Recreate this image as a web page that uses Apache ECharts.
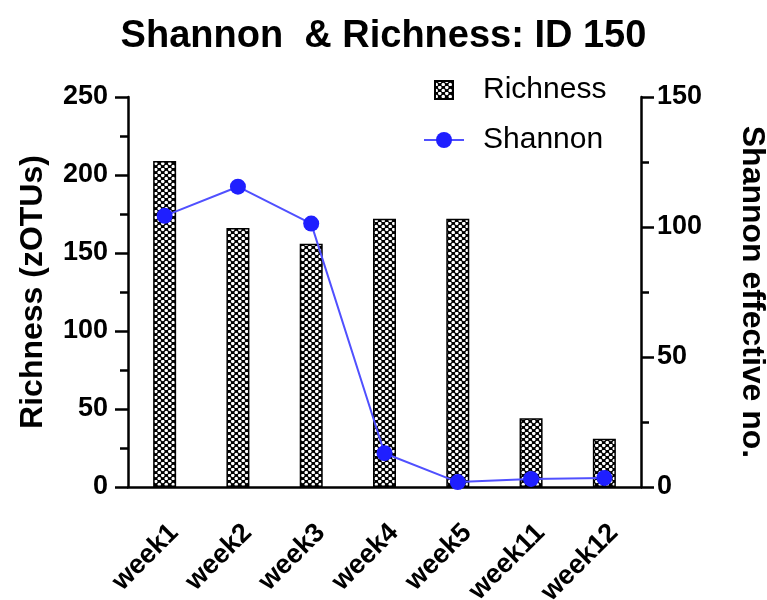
<!DOCTYPE html>
<html>
<head>
<meta charset="utf-8">
<script src="https://cdn.jsdelivr.net/npm/echarts@6/dist/echarts.min.js"></script>
<style>
  html, body { margin: 0; padding: 0; background: #fff; }
  #chart { width: 767px; height: 600px; }
</style>
</head>
<body>
<div id="chart"></div>
<script>
// data
const weeks = ['week1', 'week2', 'week3', 'week4', 'week5', 'week11', 'week12'];
const richness = [209, 166, 156, 172, 172, 44, 31];
const shannon = [104.3, 115.5, 101.3, 13, 1.9, 3.1, 3.5];
const richnessTicks = [0, 250, 50];   // min, max, interval
const shannonTicks = [0, 150, 50];

// black fill with white dots, like the prism checker pattern
function dotPattern () {
    const c = document.createElement('canvas');
    c.width = 7;
    c.height = 6;
    const ctx = c.getContext('2d');
    ctx.fillStyle = '#000';
    ctx.fillRect(0, 0, 7, 6);
    ctx.fillStyle = '#fff';
    const dots = [[1.75, 1.5], [5.25, 4.5]];
    dots.forEach(d => {
        ctx.beginPath();
        ctx.arc(d[0], d[1], 1.75, 0, Math.PI * 2);
        ctx.fill();
    });
    return c;
}

const font = 'Liberation Sans, Arial, sans-serif';
const chart = echarts.init(document.getElementById('chart'));

const axisBase = {
    type: 'value',
    splitLine: { show: false },
    axisLine: { show: true, lineStyle: { color: '#000', width: 2.5 } },
    axisTick: { show: true, length: 13, lineStyle: { color: '#000', width: 2.5 } },
    minorTick: { show: true, splitNumber: 2, length: 8, lineStyle: { color: '#000', width: 2.5 } },
    axisLabel: { color: '#000', fontSize: 27, fontWeight: 'bold', fontFamily: font },
    nameLocation: 'middle',
    nameTextStyle: { color: '#000', fontSize: 32, fontWeight: 'bold', fontFamily: font }
};

const option = {
    animation: false,
    title: {
        text: 'Shannon  & Richness: ID 150',
        left: 'center',
        top: 13,
        textStyle: { color: '#000', fontSize: 38, fontWeight: 'bold', fontFamily: font }
    },
    legend: {
        orient: 'vertical',
        left: 418,
        top: 70,
        itemGap: 20,
        itemWidth: 40,
        itemHeight: 20,
        textStyle: { color: '#000', fontSize: 30, fontFamily: font, padding: [0, 0, 0, 14] },
        data: [
            { name: 'Richness', icon: 'path://M0,0M40,20M11,1h18v18h-18z' },
            { name: 'Shannon' }
        ]
    },
    grid: { left: 128, right: 126, top: 97, bottom: 113, outerBoundsMode: 'none' },
    xAxis: {
        type: 'category',
        data: weeks,
        axisLine: { lineStyle: { color: '#000', width: 2.5 } },
        axisTick: { alignWithLabel: true, length: 16, lineStyle: { color: '#000', width: 2.5 } },
        axisLabel: {
            color: '#000', fontSize: 27, fontWeight: 'bold', fontFamily: font,
            rotate: 45, margin: 32, interval: 0, verticalAlign: 'top'
        }
    },
    yAxis: [
        Object.assign({}, axisBase, {
            name: 'Richness (zOTUs)',
            nameGap: 79,
            min: richnessTicks[0], max: richnessTicks[1], interval: richnessTicks[2],
            axisLabel: Object.assign({}, axisBase.axisLabel, { margin: 20 })
        }),
        Object.assign({}, axisBase, {
            name: 'Shannon effective no.',
            nameGap: 95,
            nameRotate: -90,
            position: 'right',
            min: shannonTicks[0], max: shannonTicks[1], interval: shannonTicks[2],
            axisLabel: Object.assign({}, axisBase.axisLabel, { margin: 16 })
        })
    ],
    series: [
        {
            name: 'Richness',
            type: 'bar',
            data: richness,
            barWidth: 23,
            itemStyle: {
                color: { image: dotPattern(), repeat: 'repeat' },
                borderColor: '#000',
                borderWidth: 1.5
            }
        },
        {
            name: 'Shannon',
            type: 'line',
            yAxisIndex: 1,
            data: shannon,
            symbol: 'circle',
            symbolSize: 16,
            lineStyle: { color: '#5050ff', width: 2 },
            itemStyle: { color: '#1f1fff' }
        }
    ]
};

chart.setOption(option);
</script>
</body>
</html>
